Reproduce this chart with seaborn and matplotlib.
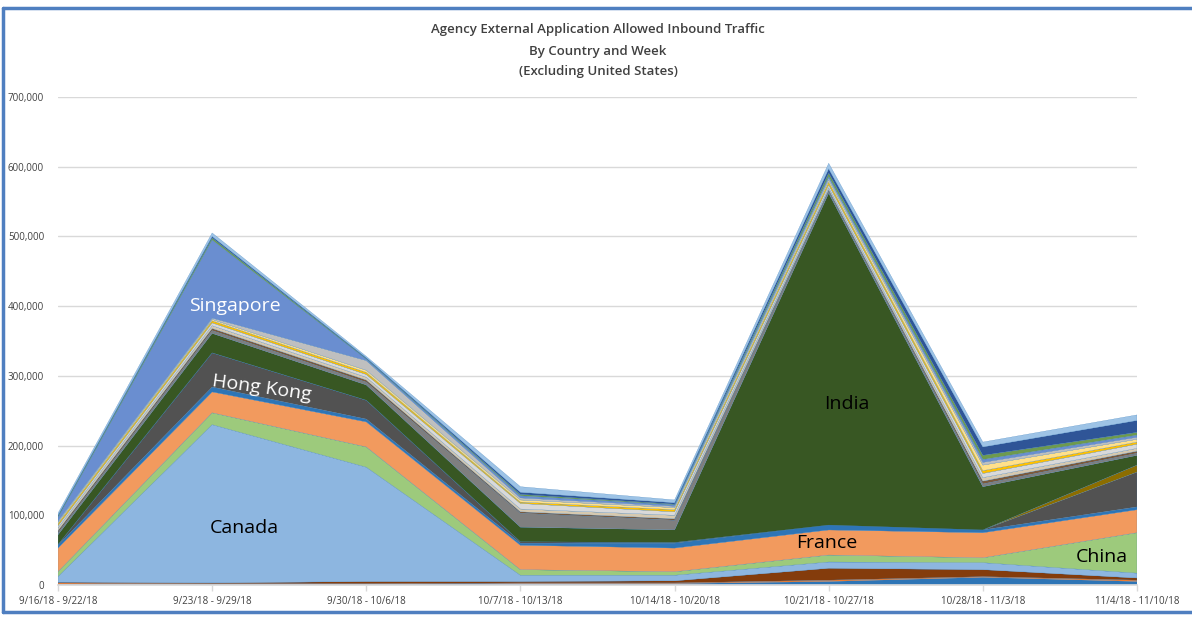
import matplotlib
matplotlib.use("Agg")
import matplotlib.pyplot as plt
import seaborn as sns
import numpy as np
from matplotlib.lines import Line2D

weeks = ["9/16/18 - 9/22/18", "9/23/18 - 9/29/18", "9/30/18 - 10/6/18", "10/7/18 - 10/13/18",
         "10/14/18 - 10/20/18", "10/21/18 - 10/27/18", "10/28/18 - 11/3/18", "11/4/18 - 11/10/18"]

# values in thousands, bottom-to-top stacking order
other_blue   = [1, 1, 1, 2, 2, 5, 11, 5]
other_orange = [2, 1, 1, 1, 1, 2, 1, 2]
other_brown  = [1, 1, 3, 2, 3, 17, 10, 3]
canada       = [8, 227, 164, 9, 8, 9, 10, 7]
china        = [7, 17, 29, 8, 5, 10, 7, 58]
france       = [34, 30, 36, 35, 34, 36, 36, 33]
other_blue2  = [4, 7, 4, 3, 7, 7, 4, 4]
hong_kong    = [1, 49, 27, 2, 1, 0, 0, 50]
other_gold   = [0, 0, 0, 0, 0, 0, 0, 10]
india        = [14, 28, 22, 21, 18, 476, 62, 14]
other_gray   = [3, 4, 4, 20, 14, 3, 4, 3]
other_brown2 = [3, 3, 3, 2, 2, 2, 4, 3]
other_beige  = [4, 4, 4, 4, 5, 3, 5, 4]
other_lgray  = [3, 4, 4, 8, 5, 4, 6, 6]
other_yellow = [3, 3, 3, 2, 3, 4, 4, 3]
other_lyell  = [2, 2, 3, 3, 3, 3, 8, 4]
other_lgray2 = [2, 2, 14, 3, 2, 3, 4, 3]
singapore    = [5, 112, 2, 3, 2, 2, 4, 3]
other_green  = [2, 3, 1, 2, 1, 5, 6, 4]
other_dblue  = [1, 2, 1, 3, 2, 6, 12, 17]
other_lblue  = [3, 5, 2, 8, 4, 8, 7, 8]

series = [other_blue, other_orange, other_brown, canada, china, france, other_blue2,
          hong_kong, other_gold, india, other_gray, other_brown2, other_beige, other_lgray,
          other_yellow, other_lyell, other_lgray2, singapore, other_green, other_dblue, other_lblue]
colors = ["#2E75B6", "#ED7D31", "#843C0C", "#8DB6E0", "#9DCA7C", "#F29A5E", "#2E75B6",
          "#525252", "#8C6D00", "#385723", "#7F7F7F", "#7B5A3C", "#D6C9B0", "#D9D9D9",
          "#FFC000", "#FFE08A", "#BFBFBF", "#6A8ED0", "#6E9A4E", "#2F5597", "#9DC3E6"]

sns.set_theme(style="white")
plt.rcParams['font.family'] = ['Open Sans', 'DejaVu Sans']

fig = plt.figure(figsize=(11.92, 6.18), dpi=100)
ax = fig.add_axes([58/1192, 33/618, (1137-58)/1192, (585-97)/618])

x = np.arange(len(weeks))
data = np.array(series, dtype=float) * 1000
ax.stackplot(x, data, colors=colors, edgecolors=colors, linewidth=0.15)

ax.set_xlim(0, len(weeks) - 1)
ax.set_ylim(0, 700000)
ax.set_yticks(np.arange(0, 700001, 100000))
ax.set_yticklabels([f"{int(v):,}" for v in np.arange(0, 700001, 100000)])
ax.set_xticks(x)
ax.set_xticklabels(weeks)
ax.yaxis.grid(True, color="#D9D9D9", linewidth=1)
ax.set_axisbelow(True)
for s in ["top", "right", "left"]:
    ax.spines[s].set_visible(False)
ax.spines["bottom"].set_color("#D9D9D9")
ax.tick_params(axis="y", length=0, labelsize=7, labelcolor="#404040", pad=10)
ax.tick_params(axis="x", length=4, width=1, color="#D9D9D9", bottom=True,
               labelsize=7, labelcolor="#404040", pad=4)
ax.set_facecolor("white")

title_lines = ["Agency External Application Allowed Inbound Traffic", "By Country and Week",
               "(Excluding United States)"]
for i, t in enumerate(title_lines):
    fig.text(598/1192, 1 - (30 + i * 21)/618, t, ha="center", va="center",
             fontsize=9.5, color="#404040", fontweight="semibold")

ax.text(1.15, 400000, "Singapore", color="white", fontsize=14, ha="center", va="center")
ax.text(1.32, 283000, "Hong Kong", color="white", fontsize=14, ha="center", va="center", rotation=-8)
ax.text(1.21, 82000, "Canada", color="black", fontsize=14, ha="center", va="center")
ax.text(5.12, 260000, "India", color="black", fontsize=14, ha="center", va="center")
ax.text(4.99, 60000, "France", color="black", fontsize=14, ha="center", va="center")
ax.text(6.77, 40000, "China", color="black", fontsize=14, ha="center", va="center")

# chart border
bc = "#4F7FC0"
fig.add_artist(Line2D([3/1192, 1], [1 - 8/618, 1 - 8/618], color=bc, lw=2.5, transform=fig.transFigure))
fig.add_artist(Line2D([3/1192, 3/1192], [1 - 8/618, 1 - 612/618], color=bc, lw=2.5, transform=fig.transFigure))
fig.add_artist(Line2D([3/1192, 1], [1 - 612/618, 1 - 612/618], color=bc, lw=2.5, transform=fig.transFigure))

fig.savefig("out.png", dpi=100, facecolor="white")
